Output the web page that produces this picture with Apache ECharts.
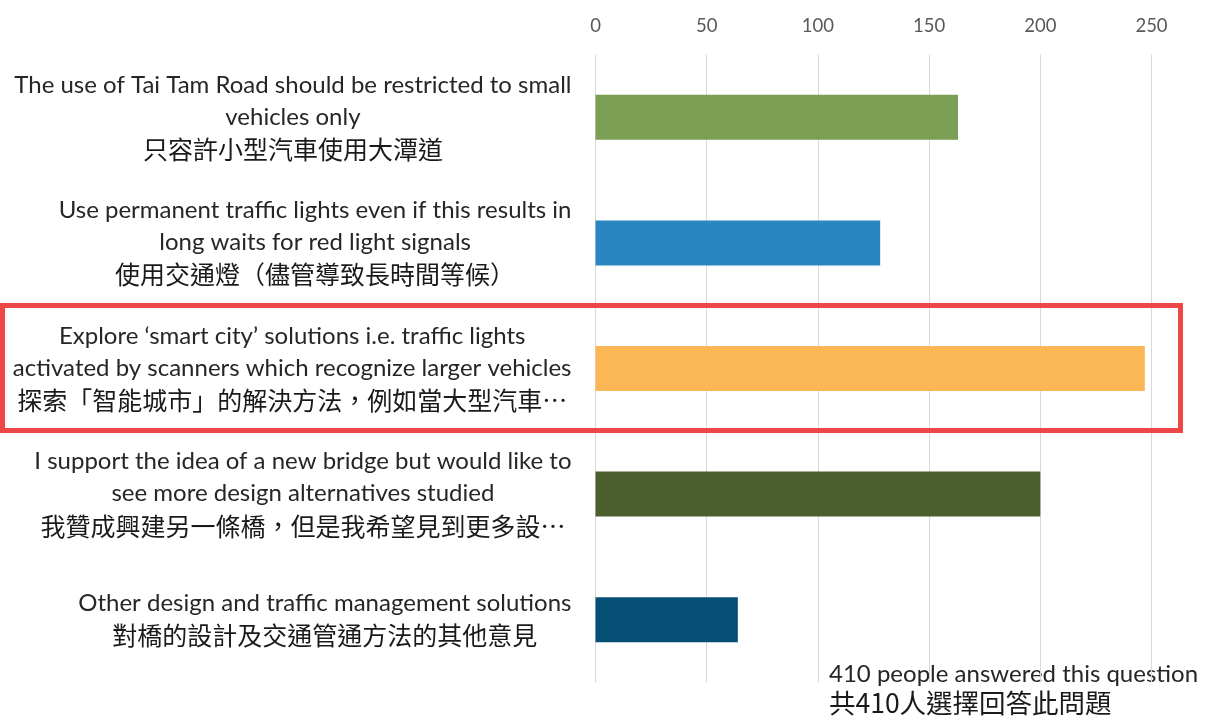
<!DOCTYPE html>
<html>
<head>
<meta charset="utf-8">
<script src="https://cdn.jsdelivr.net/npm/echarts@6/dist/echarts.min.js"></script>
<style>
  html, body { margin: 0; padding: 0; background: #fff; }
  #main { width: 1207px; height: 717px; }
</style>
</head>
<body>
<div id="main"></div>
<script>
// 選項（英文，已手動換行）
var labelEn = [
  'The use of Tai Tam Road should be restricted to small\nvehicles only',
  'Use permanent traffic lights even if this results in\nlong waits for red light signals',
  'Explore \u2018smart city\u2019 solutions i.e. traffic lights\nactivated by scanners which recognize larger vehicles',
  'I support the idea of a new bridge but would like to\nsee more design alternatives studied',
  'Other design and traffic management solutions'
];
// 選項（中文）
var labelZh = [
  '只容許小型汽車使用大潭道',
  '使用交通燈（儘管導致長時間等候）',
  '探索「智能城市」的解決方法，例如當大型汽車…',
  '我贊成興建另一條橋，但是我希望見到更多設…',
  '對橋的設計及交通管通方法的其他意見'
];
var counts = [163, 128, 247, 200, 64];
var barColors = ['#7a9f55', '#2a86c0', '#fbb755', '#4b5f2e', '#064f74'];
var xTicks = [0, 50, 100, 150, 200, 250];

var myChart = echarts.init(document.getElementById('main'));

var option = {
  animation: false,
  grid: {
    left: 595.5,
    right: 55.5,
    top: 54.5,
    bottom: 34.5,
    containLabel: false
  },
  xAxis: {
    type: 'value',
    position: 'top',
    min: xTicks[0],
    max: xTicks[xTicks.length - 1],
    interval: 50,
    axisLine: { show: false },
    axisTick: { show: false },
    axisLabel: {
      color: '#595959',
      fontSize: 18.5,
      fontFamily: 'Lato',
      margin: 19
    },
    splitLine: {
      show: true,
      lineStyle: { color: '#d9d9d9', width: 1 }
    }
  },
  yAxis: {
    type: 'category',
    inverse: true,
    data: labelEn.map(function (s, i) { return i; }),
    axisLine: { show: false },
    axisTick: { show: false },
    axisLabel: {
      interval: 0,
      margin: 24,
      formatter: function (value, index) {
        var en = labelEn[index].split('\n').map(function (s) {
          return '{en|' + s + '}';
        }).join('\n');
        return en + '\n{zh|' + labelZh[index] + '}';
      },
      rich: {
        en: {
          fontFamily: 'Lato',
          fontSize: 24,
          lineHeight: 32,
          color: '#262626',
          align: 'center'
        },
        zh: {
          fontFamily: 'Noto Sans CJK TC',
          fontSize: 25,
          lineHeight: 33,
          color: '#1a1a1a',
          align: 'center'
        }
      }
    }
  },
  series: [
    {
      type: 'bar',
      barWidth: 45,
      data: counts.map(function (v, i) {
        return { value: v, itemStyle: { color: barColors[i] } };
      })
    }
  ],
  graphic: [
    {
      // 紅框標示
      type: 'rect',
      shape: { x: 2.5, y: 305.5, width: 1178, height: 125 },
      style: { fill: 'none', stroke: '#ef4747', lineWidth: 5 },
      z: 10
    },
    {
      type: 'text',
      left: 829,
      top: 662,
      style: {
        text: '410 people answered this question',
        fontFamily: 'Lato',
        fontSize: 24,
        fill: '#262626'
      }
    },
    {
      type: 'text',
      left: 829,
      top: 690,
      style: {
        text: '共410人選擇回答此問題',
        fontFamily: 'Noto Sans CJK TC',
        fontSize: 26.5,
        fill: '#1a1a1a'
      }
    }
  ]
};

myChart.setOption(option);
</script>
</body>
</html>
